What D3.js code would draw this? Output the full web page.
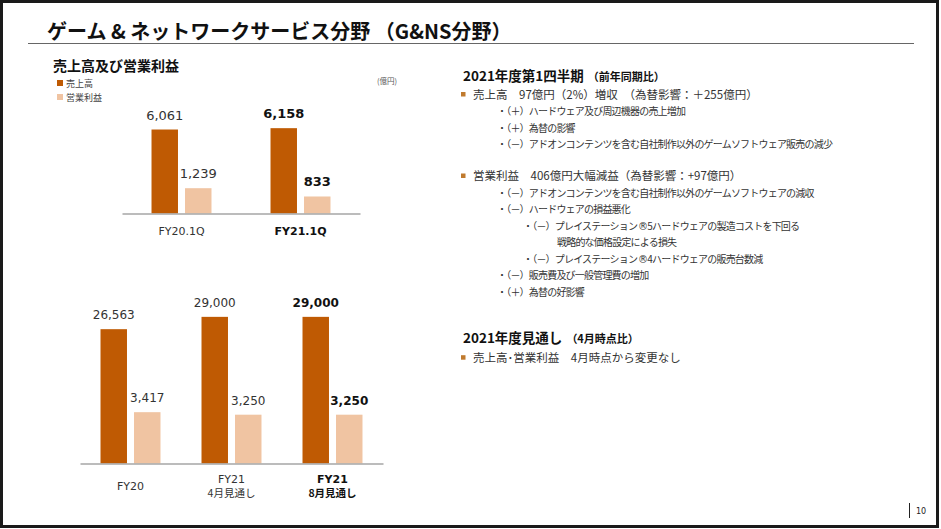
<!DOCTYPE html>
<html>
<head>
<meta charset="utf-8">
<script src="https://cdn.jsdelivr.net/npm/d3@7"></script>
<style>
html, body { margin: 0; padding: 0; background: #fff; overflow: hidden; }
svg { display: block; }
.jp { font-family: "Noto Sans CJK JP", sans-serif; }
.num { font-family: "DejaVu Sans", Verdana, sans-serif; }
</style>
</head>
<body>
<script>
// 四半期（億円）
const quarterCategories = [["FY20.1Q"], ["FY21.1Q"]];
const quarterSales = [6061, 6158];
const quarterProfit = [1239, 833];

// 通期（億円）
const yearCategories = [["FY20"], ["FY21", "4月見通し"], ["FY21", "8月見通し"]];
const yearSales = [26563, 29000, 29000];
const yearProfit = [3417, 3250, 3250];

const seriesNames = ["売上高", "営業利益"];
const seriesColors = ["#BF5A03", "#F0C4A2"];

const W = 941, H = 529;
const svg = d3.select("body").append("svg").attr("width", W).attr("height", H);

svg.append("rect").attr("width", W).attr("height", H).attr("fill", "#fff");
svg.append("rect")
	.attr("x", 1.5).attr("y", 1.5).attr("width", 936).attr("height", 525)
	.attr("fill", "none").attr("stroke", "#1a1a1a").attr("stroke-width", 3);

// title
svg.append("text").attr("class", "jp")
	.attr("x", 47).attr("y", 38.5)
	.attr("font-size", 20).attr("font-weight", 700).attr("fill", "#111")
	.text("ゲーム & ネットワークサービス分野 （G&NS分野）");
svg.append("line")
	.attr("x1", 28).attr("x2", 914).attr("y1", 43.5).attr("y2", 43.5)
	.attr("stroke", "#666").attr("stroke-width", 1.2);

svg.append("text").attr("class", "jp")
	.attr("x", 53).attr("y", 71)
	.attr("font-size", 14).attr("font-weight", 700).attr("fill", "#111")
	.text("売上高及び営業利益");

// legend
const legend = svg.append("g").attr("transform", "translate(57,80)");
seriesNames.forEach((name, i) => {
	legend.append("rect").attr("x", 0).attr("y", i * 14).attr("width", 6).attr("height", 6)
		.attr("fill", seriesColors[i]);
	legend.append("text").attr("class", "jp")
		.attr("x", 9).attr("y", i * 14 + 7)
		.attr("font-size", 9).attr("fill", "#444").text(name);
});
svg.append("text").attr("class", "jp")
	.attr("x", 377).attr("y", 84)
	.attr("font-size", 7.5).attr("fill", "#555").text("(億円)");

const fmt = d3.format(",");

function drawPanel(p) {
	const g = svg.append("g");
	const idx = p.categories.map((d, i) => i);
	const last = idx.length - 1;

	const x0 = d3.scaleBand().domain(idx).range(p.xRange)
		.paddingInner(p.padInner).paddingOuter(p.padInner / 2);
	const x1 = d3.scaleBand().domain(seriesNames).range([0, x0.bandwidth()]).paddingInner(0.21);
	const ySales = d3.scaleLinear().domain([0, p.salesMax]).range([p.base, p.top]);
	const yProfit = d3.scaleLinear().domain([0, p.profitMax]).range([p.base, p.top]);
	const yScales = [ySales, yProfit];

	const rows = idx.map(i => ({ i: i, vals: [p.sales[i], p.profit[i]] }));

	const grp = g.selectAll("g.grp").data(rows).enter().append("g")
		.attr("class", "grp")
		.attr("transform", d => "translate(" + x0(d.i) + ",0)");

	grp.selectAll("rect")
		.data(d => d.vals.map((v, s) => ({ v: v, s: s })))
		.enter().append("rect")
		.attr("x", d => x1(seriesNames[d.s]))
		.attr("width", x1.bandwidth())
		.attr("y", d => yScales[d.s](d.v))
		.attr("height", d => p.base - yScales[d.s](d.v))
		.attr("fill", d => seriesColors[d.s]);

	grp.each(function (row) {
		d3.select(this).selectAll("text.val")
			.data(row.vals.map((v, s) => ({ v: v, s: s })))
			.enter().append("text")
			.attr("class", "val num")
			.attr("x", d => x1(seriesNames[d.s]) + x1.bandwidth() / 2)
			.attr("y", d => yScales[d.s](d.v) - 10)
			.attr("text-anchor", "middle")
			.attr("font-size", p.valueSize)
			.attr("font-weight", row.i === last ? 700 : 400)
			.attr("fill", row.i === last ? "#111" : "#333")
			.text(d => fmt(d.v));
	});

	// x axis
	const axis = g.append("g")
		.attr("transform", "translate(0," + p.base + ")")
		.call(d3.axisBottom(x0).tickSize(0).tickFormat(""));
	axis.select(".domain").attr("stroke", "#A6A6A6").attr("stroke-width", 1.3);
	axis.selectAll(".tick text").remove();
	axis.selectAll(".tick").each(function (i) {
		const lines = p.categories[i];
		const lh = 13.5;
		const start = p.labelY - (lines.length - 1) * lh / 2;
		lines.forEach((ln, k) => {
			const latin = /^[\x00-\x7F]+$/.test(ln);
			d3.select(this).append("text")
				.attr("class", latin ? "num" : "jp")
				.attr("text-anchor", "middle")
				.attr("font-size", latin ? 11 : 10.5)
				.attr("font-weight", i === last ? 700 : 400)
				.attr("fill", i === last ? "#111" : "#333")
				.attr("x", 0).attr("y", start + k * lh).text(ln);
		});
	});
}

drawPanel({
	categories: quarterCategories, sales: quarterSales, profit: quarterProfit,
	xRange: [122, 360], padInner: 0.496,
	base: 213.5, top: 116.5, salesMax: 7000, profitMax: 4750,
	valueSize: 13, labelY: 21.5
});

drawPanel({
	categories: yearCategories, sales: yearSales, profit: yearProfit,
	xRange: [80, 383], padInner: 0.406,
	base: 463.5, top: 311.8, salesMax: 30000, profitMax: 10100,
	valueSize: 12, labelY: 26.5
});

// right side commentary
const bulletColor = "#C07A2E";
const notes = svg.append("g").attr("class", "jp");

function heading(y, main, sub) {
	const t = notes.append("text").attr("x", 463).attr("y", y).attr("fill", "#111").attr("font-weight", 700);
	t.append("tspan").attr("font-size", 13.5).text(main);
	t.append("tspan").attr("font-size", 11).attr("dx", 4).text(sub);
}
function bullet(y, txt) {
	notes.append("rect").attr("x", 461).attr("y", y - 6.5).attr("width", 4.5).attr("height", 4.5)
		.attr("fill", bulletColor);
	notes.append("text").attr("x", 473).attr("y", y).attr("font-size", 11.5).attr("fill", "#333").text(txt);
}
function sub(x, y, txt) {
	const t = notes.append("text").attr("x", x).attr("y", y).attr("font-size", 10)
		.attr("letter-spacing", -0.8).attr("fill", "#333");
	// ® は CJK フォントだと小さすぎるので別フォント
	txt.split("®").forEach((part, k) => {
		if (k > 0) t.append("tspan").attr("class", "num").attr("font-size", 10).attr("dx", 1).text("®");
		t.append("tspan").text(part);
	});
}

heading(80.5, "2021年度第1四半期", "（前年同期比）");
bullet(98.5, "売上高　97億円（2%）増収　（為替影響：＋255億円）");
sub(497, 115, "・（＋）ハードウェア及び周辺機器の売上増加");
sub(497, 131.5, "・（＋）為替の影響");
sub(497, 148, "・（－）アドオンコンテンツを含む自社制作以外のゲームソフトウェア販売の減少");
bullet(180, "営業利益　406億円大幅減益（為替影響：+97億円）");
sub(497, 196.7, "・（－）アドオンコンテンツを含む自社制作以外のゲームソフトウェアの減収");
sub(497, 213.3, "・（－）ハードウェアの損益悪化");
sub(523, 230, "・（－）プレイステーション®5ハードウェアの製造コストを下回る");
sub(557, 246.3, "戦略的な価格設定による損失");
sub(523, 262.7, "・（－）プレイステーション®4ハードウェアの販売台数減");
sub(497, 279.3, "・（－）販売費及び一般管理費の増加");
sub(497, 295.5, "・（＋）為替の好影響");

heading(343.3, "2021年度見通し", "（4月時点比）");
bullet(361.7, "売上高･営業利益　4月時点から変更なし");

// page number
svg.append("line").attr("x1", 909.5).attr("x2", 909.5).attr("y1", 503).attr("y2", 518)
	.attr("stroke", "#222").attr("stroke-width", 1);
svg.append("text").attr("class", "num").attr("x", 916).attr("y", 514)
	.attr("font-size", 8).attr("fill", "#222").text("10");
</script>
</body>
</html>
